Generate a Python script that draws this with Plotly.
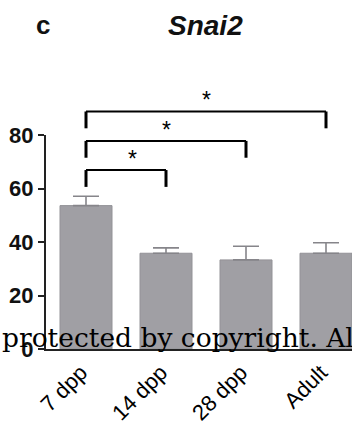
import plotly.graph_objects as go

categories = ["7 dpp", "14 dpp", "28 dpp", "Adult"]
means = [53.6, 35.8, 33.3, 35.8]
errors = [3.5, 2.0, 5.1, 3.9]
y_ticks = [0, 20, 40, 60, 80]
comparisons = [(0, 1, "*"), (0, 2, "*"), (0, 3, "*")]

# layout constants
X_RANGE = [-0.5, 3.325]
Y_RANGE = [0, 80]
bracket_tops = [66.9, 77.8, 88.8]
bracket_drop = 6.3
star_offset = 4.2

def xp(i):
    return (i - X_RANGE[0]) / (X_RANGE[1] - X_RANGE[0])

def yp(v):
    return (v - Y_RANGE[0]) / (Y_RANGE[1] - Y_RANGE[0])

fig = go.Figure()
fig.add_trace(go.Bar(
    x=list(range(len(categories))), y=means, width=0.65,
    marker=dict(color="#a09fa4", line=dict(color="#939297", width=1)),
    error_y=dict(type="data", array=errors, arrayminus=[0]*len(errors),
                 symmetric=False, color="#86858a", thickness=1.6, width=13),
))

shapes = []
annotations = []
for (a, b, lab), top in zip(comparisons, bracket_tops):
    x0, x1 = xp(a), xp(b)
    y_top, y_bot = yp(top), yp(top - bracket_drop)
    shapes.append(dict(type="line", xref="paper", yref="paper", x0=x0, x1=x1,
                       y0=y_top, y1=y_top, line=dict(color="black", width=2)))
    for xx in (x0, x1):
        shapes.append(dict(type="line", xref="paper", yref="paper", x0=xx, x1=xx,
                           y0=y_top, y1=y_bot, line=dict(color="black", width=3)))
    annotations.append(dict(text=lab, xref="paper", yref="paper",
                            x=(x0 + x1) / 2, y=yp(top + star_offset),
                            showarrow=False, yanchor="middle",
                            font=dict(family="Arial", size=23, color="black")))

annotations.append(dict(text="<b><i>Snai2</i></b>", xref="paper", yref="paper",
                        x=0.52, y=1.514, showarrow=False, yanchor="middle",
                        font=dict(family="Arial", size=28, color="#111")))
annotations.append(dict(text="<b>c</b>", xref="paper", yref="paper",
                        x=-0.04, y=1.514, showarrow=False, yanchor="middle",
                        font=dict(family="Arial", size=26, color="#111")))
annotations.append(dict(text="protected by copyright. All rights reserved.",
                        xref="paper", yref="paper", x=-0.150, y=0.052,
                        xanchor="left", yanchor="middle", showarrow=False,
                        font=dict(family="DejaVu Serif", size=26.5, color="black")))

fig.update_layout(
    width=352, height=424,
    margin=dict(l=46, r=0, t=135, b=75),
    paper_bgcolor="white", plot_bgcolor="white",
    showlegend=False,
    shapes=shapes, annotations=annotations,
    xaxis=dict(range=X_RANGE, tickmode="array", tickvals=list(range(len(categories))),
               ticktext=categories, tickangle=-45, showline=True, linecolor="#222",
               linewidth=2, ticks="", showgrid=False, zeroline=False, automargin=False,
               ticklabelshift=-5,
               tickfont=dict(family="Arial", size=22, color="#000")),
    yaxis=dict(range=Y_RANGE, tickvals=y_ticks, showline=True, linecolor="#222",
               linewidth=2, ticks="outside", ticklen=6, tickwidth=2, tickcolor="#222",
               showgrid=False, zeroline=False, automargin=False,
               tickfont=dict(family="Arial", size=22, color="#111", weight="bold")),
)
fig.write_html("out.html", config={"displayModeBar": False},
               post_script="document.body.style.margin='0';document.body.style.overflow='hidden';")
